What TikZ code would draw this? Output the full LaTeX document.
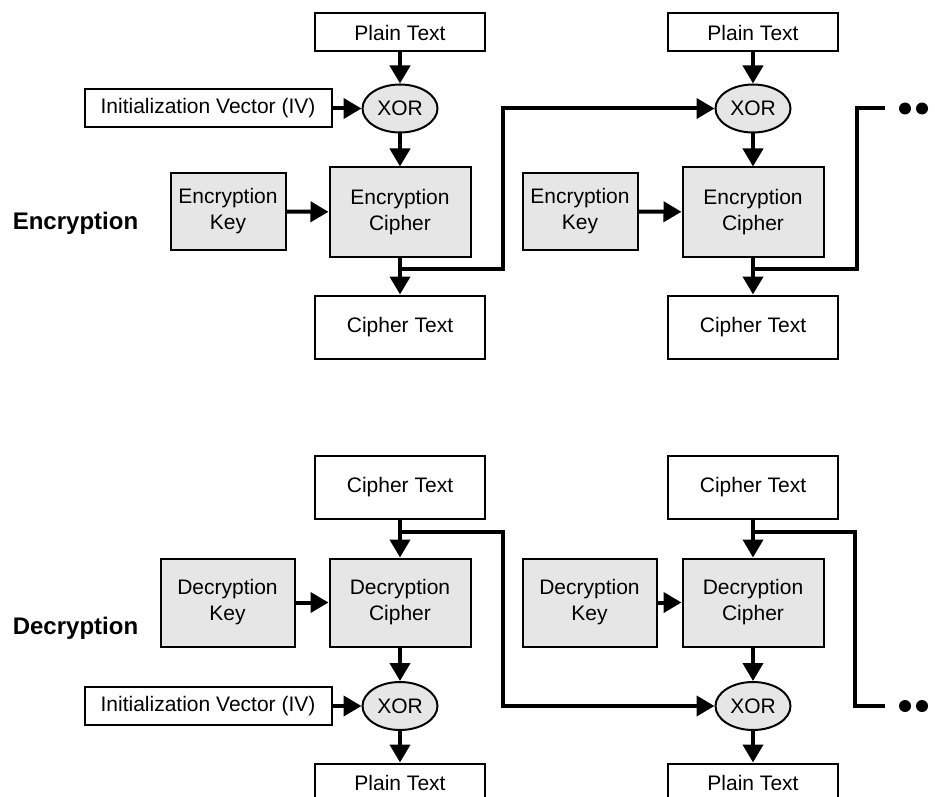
\documentclass[tikz,border=0pt]{standalone}
\usepackage{fontspec}
\setmainfont{Liberation Sans}
\usepackage{tikz}
\usetikzlibrary{arrows.meta,shapes.geometric}
\definecolor{boxgray}{HTML}{E6E6E6}

\begin{document}
\begin{tikzpicture}[x=1pt,y=-1pt,
 txt/.style={font=\fontsize{21}{26}\selectfont,align=center,inner sep=0pt},
 blk/.style={txt,draw,line width=2pt},
 plain/.style={blk,minimum width=170pt,minimum height=38pt},
 ctext/.style={blk,minimum width=170pt,minimum height=63pt},
 ivbox/.style={blk,minimum width=247pt,minimum height=38pt},
 keybox/.style={blk,fill=boxgray,minimum height=76pt},
 ciph/.style={blk,fill=boxgray,minimum width=141pt,minimum height=89pt},
 xorop/.style={blk,ellipse,fill=boxgray,minimum width=75pt,minimum height=48pt},
 lbl/.style={font=\fontsize{24}{28}\selectfont\bfseries},
 wire/.style={line width=4pt},
 arr/.style={wire,-{Triangle[length=18pt,width=20pt]}},
 dot/.style={circle,fill,inner sep=0pt,minimum size=12pt}]
 \clip (0,0) rectangle (935,797);
 \fill[white] (0,0) rectangle (935,797);
 % encryption
 \node[lbl] (enc) at (75.5,223) {Encryption};
 \node[plain] (pt1) at (400,32.5) {Plain Text};
 \node[ivbox] (iv1) at (208,108.5) {Initialization Vector (IV)};
 \node[xorop] (xor1) at (400,108.5) {XOR};
 \node[keybox,minimum width=115pt] (key1) at (228,211.5) {Encryption\\Key};
 \node[ciph] (ciph1) at (400,212) {Encryption\\Cipher};
 \node[ctext] (ct1) at (400,327) {Cipher Text};
 \node[plain] (pt2) at (753,32.5) {Plain Text};
 \node[xorop] (xor2) at (753,108.5) {XOR};
 \node[keybox,minimum width=115pt] (key2) at (580,211.5) {Encryption\\Key};
 \node[ciph] (ciph2) at (753,212) {Encryption\\Cipher};
 \node[ctext] (ct2) at (753,327) {Cipher Text};
 \coordinate (b1) at (503,269);
 \coordinate (b2) at (857,269);
 \coordinate (e1) at (885,108.5);
 \draw[arr] (pt1) -- (xor1);
 \draw[arr] (iv1) -- (xor1);
 \draw[arr] (xor1) -- (ciph1);
 \draw[arr] (key1) -- (ciph1);
 \draw[arr] (ciph1) -- (ct1);
 \draw[arr] (ciph1.south) |- (b1) |- (xor2.west);
 \draw[arr] (pt2) -- (xor2);
 \draw[arr] (xor2) -- (ciph2);
 \draw[arr] (key2) -- (ciph2);
 \draw[arr] (ciph2) -- (ct2);
 \draw[wire] (ciph2.south) |- (b2) |- (e1);
 \node[dot] (d1) at (905,108.5) {};
 \node[dot] (d2) at (922,108.5) {};
 \node[dot] (d3) at (941,108.5) {};
 % decryption
 \node[lbl] (dec) at (75.5,628) {Decryption};
 \node[ctext] (ct3) at (400,487) {Cipher Text};
 \node[keybox,minimum width=134pt,minimum height=88pt] (dkey1) at (227.5,602.5) {Decryption\\Key};
 \node[ciph,minimum height=88pt] (dc1) at (400,602.5) {Decryption\\Cipher};
 \node[xorop] (xor3) at (400,706) {XOR};
 \node[ivbox] (iv2) at (208,706) {Initialization Vector (IV)};
 \node[plain] (pt3) at (400,782.5) {Plain Text};
 \node[ctext] (ct4) at (753,487) {Cipher Text};
 \node[keybox,minimum width=134pt,minimum height=88pt] (dkey2) at (589.5,602.5) {Decryption\\Key};
 \node[ciph,minimum height=88pt] (dc2) at (753,602.5) {Decryption\\Cipher};
 \node[xorop] (xor4) at (753,706) {XOR};
 \node[plain] (pt4) at (753,782.5) {Plain Text};
 \coordinate (b3) at (503,532);
 \coordinate (b4) at (855,532);
 \coordinate (e2) at (885,706);
 \draw[arr] (ct3) -- (dc1);
 \draw[arr] (dkey1) -- (dc1);
 \draw[arr] (dc1) -- (xor3);
 \draw[arr] (iv2) -- (xor3);
 \draw[arr] (xor3) -- (pt3);
 \draw[arr] (ct3.south) |- (b3) |- (xor4.west);
 \draw[arr] (ct4) -- (dc2);
 \draw[arr] (dkey2) -- (dc2);
 \draw[arr] (dc2) -- (xor4);
 \draw[arr] (xor4) -- (pt4);
 \draw[wire] (ct4.south) |- (b4) |- (e2);
 \node[dot] (d4) at (905,706) {};
 \node[dot] (d5) at (922,706) {};
 \node[dot] (d6) at (941,706) {};
\end{tikzpicture}
\end{document}
